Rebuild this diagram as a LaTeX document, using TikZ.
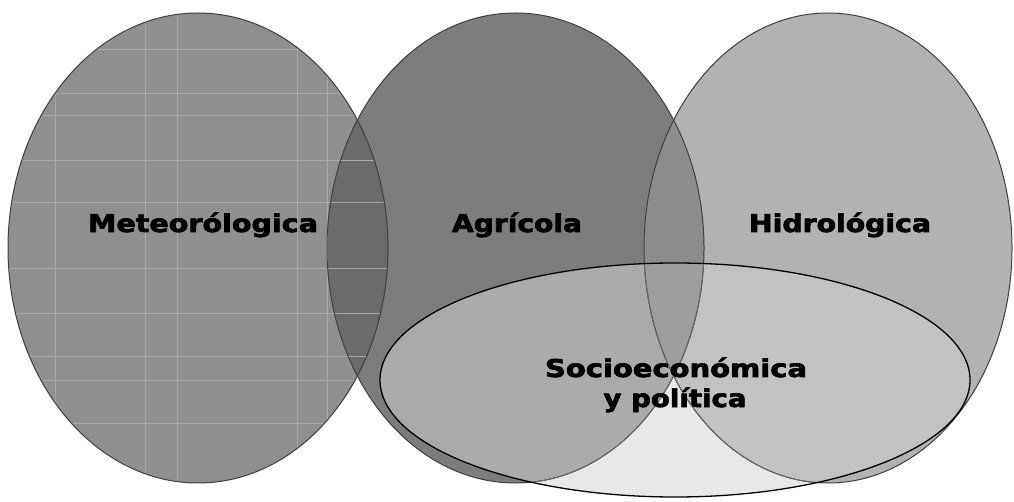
\documentclass[tikz,border=0pt]{standalone}
\usepackage{fontspec}
\usepackage{graphicx}
\newfontfamily\labfont{DejaVu Sans Bold}[FakeBold=2.5]
\definecolor{cMet}{gray}{0.56}
\definecolor{cMA}{gray}{0.42}
\definecolor{cAgr}{gray}{0.49}
\definecolor{cAH}{gray}{0.55}
\definecolor{cHid}{gray}{0.70}
\definecolor{cSA}{gray}{0.67}
\definecolor{cSAH}{gray}{0.62}
\definecolor{cSH}{gray}{0.76}
\definecolor{cSoc}{gray}{0.91}
\definecolor{cGrid}{gray}{0.66}
\definecolor{cEdge}{gray}{0.25}
\definecolor{cEdgeIn}{gray}{0.42}
\newcommand\fitw[2]{\resizebox{#1}{\height}{#2}}
\def\pMet{(198,248) ellipse [x radius=190pt, y radius=235pt]}
\def\pAgr{(515.5,248) ellipse [x radius=188.5pt, y radius=235pt]}
\def\pHid{(828,248) ellipse [x radius=184pt, y radius=235pt]}
\def\pSoc{(675,380) ellipse [x radius=295pt, y radius=117pt]}
\tikzset{
  lab/.style={anchor=base, inner sep=0pt, text=black,
    font=\labfont\fontsize{24.5}{28}\selectfont},
  edgeline/.style={draw=cEdge, line width=1pt},
  edgein/.style={draw=cEdgeIn, line width=0.8pt},
  socline/.style={draw=black, line width=1.3pt},
  gridline/.style={draw=cGrid, line width=0.9pt}
}
\begin{document}
\begin{tikzpicture}[x=1pt,y=-1pt]
\useasboundingbox (0,0) rectangle (1014,502);
% base fills
\fill[cMet] \pMet;
\fill[cAgr] \pAgr;
\begin{scope}
  \clip \pMet;
  \fill[cMA] \pAgr;
\end{scope}
% faint grid in Meteorologica
\begin{scope}
  \clip \pMet;
  \foreach \gx in {55,145,177,297,327}
    \draw[gridline] (\gx,0) -- (\gx,502);
  \foreach \gy in {49,93,115,160,202,268,313,356,380,423}
    \draw[gridline] (0,\gy) -- (400,\gy);
\end{scope}
\fill[cHid] \pHid;
\begin{scope}
  \clip \pAgr;
  \fill[cAH] \pHid;
\end{scope}
% socioeconomic region
\fill[cSoc] \pSoc;
\begin{scope}
  \clip \pSoc;
  \fill[cSA] \pAgr;
  \fill[cSH] \pHid;
  \clip \pAgr;
  \fill[cSAH] \pHid;
\end{scope}
% outlines
\draw[edgeline] \pMet;
\draw[edgeline] \pAgr;
\draw[edgeline] \pHid;
\begin{scope}
  \clip \pSoc;
  \draw[edgein] \pAgr;
  \draw[edgein] \pHid;
\end{scope}
\draw[socline] \pSoc;
% labels
\node[lab] (met) at (203,232) {\fitw{230pt}{Meteorólogica}};
\node[lab] (agr) at (517,232) {\fitw{130pt}{Agrícola}};
\node[lab] (hid) at (840,232) {\fitw{182pt}{Hidrológica}};
\node[lab] (soc) at (676,377) {\fitw{262pt}{Socioeconómica}};
\node[lab] (pol) at (675,407) {\fitw{143pt}{y política}};
\end{tikzpicture}
\end{document}
